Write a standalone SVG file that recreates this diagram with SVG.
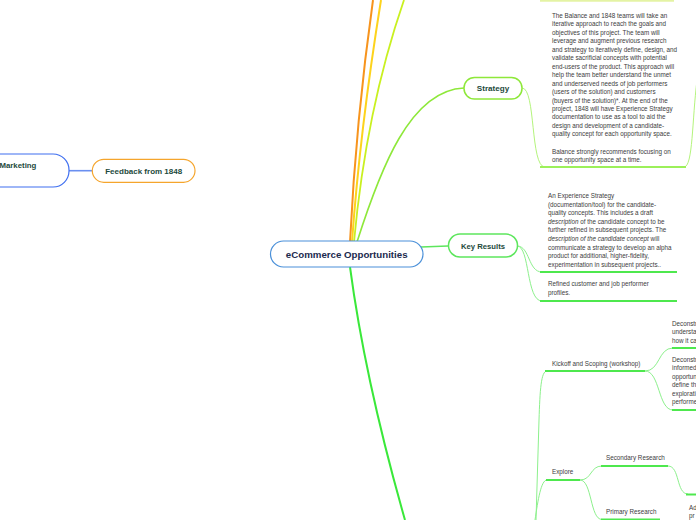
<svg xmlns="http://www.w3.org/2000/svg" width="696" height="520" viewBox="0 0 696 520">
<style>
.lbl{font-family:"Liberation Sans",Arial,sans-serif;font-weight:bold;text-anchor:middle}
.body{font-family:"Liberation Sans",Arial,sans-serif;font-size:6.3px;fill:#3c3c3c}
.thin{fill:none;stroke:#8cf08c;stroke-width:1}
.ul{fill:none;stroke:#4ee84e;stroke-width:2}
</style>
<rect width="696" height="520" fill="#ffffff"/>
<g id="connectors" fill="none">
  <path d="M350,242 Q356,120 373,0" stroke="#f7941d" stroke-width="2"/>
  <path d="M352,242 Q360,130 381,0" stroke="#fdd31c" stroke-width="2"/>
  <path d="M354,242 Q366,110 404,0" stroke="#c9f020" stroke-width="1.8"/>
  <path d="M357,242 C380,170 410,90 464,88" stroke="#8ee83a" stroke-width="1.6"/>
  <path d="M421,247 L448,246" stroke="#5de65d" stroke-width="1.6"/>
  <path d="M350,267 Q365,380 405,520" stroke="#3ae83a" stroke-width="2"/>
  <path d="M69,170.7 L92,170.7" stroke="#6a8ff0" stroke-width="1.6"/>
  <path d="M522,88 C536,88 530,167 545,167" stroke="#b4f47c" stroke-width="1"/>
  <path d="M684,167 C693,167 692,120 697,80" stroke="#b4f47c" stroke-width="1"/>
  <path d="M517,246 C530,246 528,272 542,272" class="thin"/>
  <path d="M517,246 C530,246 526,301 542,301" class="thin"/>
  <path d="M547,371 C541,371 540,390 539,420 L536,520" class="thin"/>
  <path d="M547,480 C541,480 538,500 535,520" class="thin"/>
  <path d="M645,371 C660,371 658,348 673,348" class="thin"/>
  <path d="M645,371 C660,371 658,410 673,410" class="thin"/>
  <path d="M580,480 C592,480 590,466 602,466" class="thin"/>
  <path d="M580,480 C592,480 590,519.5 602,519.5" class="thin"/>
  <path d="M668,466 C680,466 676,494 688,494" class="thin"/>
</g>
<g id="top-fragment">
  <line x1="540" y1="0.8" x2="674" y2="0.8" stroke="#e4f3a4" stroke-width="2"/>
</g>
<g id="center">
  <rect x="270.5" y="241" width="152.5" height="26" rx="13" fill="#fff" stroke="#4a90d9" stroke-width="1.2"/>
  <text x="346.7" y="257.6" class="lbl" font-size="9.7" fill="#1b2a4e">eCommerce Opportunities</text>
</g>
<g id="marketing">
  <rect x="-30" y="154" width="99" height="33" rx="16" fill="#fff" stroke="#3f6ff0" stroke-width="1.2"/>
  <text x="-0.5" y="168" font-family="Liberation Sans,Arial,sans-serif" font-weight="bold" font-size="7.8" fill="#1d4a3c">Marketing</text>
</g>
<g id="feedback">
  <rect x="92.3" y="159.3" width="102.7" height="23" rx="11.5" fill="#fff" stroke="#f5a52c" stroke-width="1.2"/>
  <text x="143.7" y="173.6" class="lbl" font-size="8" fill="#1d4a3c">Feedback from 1848</text>
</g>
<g id="strategy">
  <rect x="464" y="77.5" width="58" height="21.5" rx="10.5" fill="#fff" stroke="#8ee83a" stroke-width="1.5"/>
  <text x="493" y="91.2" class="lbl" font-size="8.1" fill="#1d4a3c">Strategy</text>
</g>
<g id="strategy-text">
  <text class="body" x="552">
    <tspan x="552" y="17.8">The Balance and 1848 teams will take an</tspan>
    <tspan x="552" y="26.3">iterative approach to reach the goals and</tspan>
    <tspan x="552" y="34.7">objectives of this project. The team will</tspan>
    <tspan x="552" y="43.2">leverage and augment previous research</tspan>
    <tspan x="552" y="51.7">and strategy to iteratively define, design, and</tspan>
    <tspan x="552" y="60.2">validate sacrificial concepts with potential</tspan>
    <tspan x="552" y="68.6">end-users of the product. This approach will</tspan>
    <tspan x="552" y="77.1">help the team better understand the unmet</tspan>
    <tspan x="552" y="85.6">and underserved needs of job performers</tspan>
    <tspan x="552" y="94.0">(users of the solution) and customers</tspan>
    <tspan x="552" y="102.5">(buyers of the solution)*. At the end of the</tspan>
    <tspan x="552" y="111.0">project, 1848 will have Experience Strategy</tspan>
    <tspan x="552" y="119.4">documentation to use as a tool to aid the</tspan>
    <tspan x="552" y="127.9">design and development of a candidate-</tspan>
    <tspan x="552" y="136.4">quality concept for each opportunity space.</tspan>
    <tspan x="552" y="153.5">Balance strongly recommends focusing on</tspan>
    <tspan x="552" y="162.0">one opportunity space at a time.</tspan>
  </text>
  <line x1="540" y1="167" x2="686" y2="167" stroke="#9cf05a" stroke-width="2"/>
</g>
<g id="key-results">
  <rect x="448.5" y="234" width="69" height="23" rx="11.5" fill="#fff" stroke="#5de65d" stroke-width="1.5"/>
  <text x="483" y="248.6" class="lbl" font-size="7.7" fill="#1d4a3c">Key Results</text>
</g>
<g id="key-results-text-1">
  <text class="body">
    <tspan x="548" y="198">An Experience Strategy</tspan>
    <tspan x="548" y="206.6">(documentation/tool) for the candidate-</tspan>
    <tspan x="548" y="215.2">quality concepts. This includes a draft</tspan>
    <tspan x="548" y="223.8"><tspan font-style="italic">description</tspan> of the candidate concept to be</tspan>
    <tspan x="548" y="232.4">further refined in subsequent projects. The</tspan>
    <tspan x="548" y="241"><tspan font-style="italic">description of the candidate concept</tspan> will</tspan>
    <tspan x="548" y="249.6">communicate a strategy to develop an alpha</tspan>
    <tspan x="548" y="258.2">product for additional, higher-fidelity,</tspan>
    <tspan x="548" y="266.8">experimentation in subsequent projects..</tspan>
  </text>
  <line x1="540" y1="272" x2="677" y2="272" class="ul"/>
</g>
<g id="key-results-text-2">
  <text class="body">
    <tspan x="548" y="286.3">Refined customer and job performer</tspan>
    <tspan x="548" y="295">profiles.</tspan>
  </text>
  <line x1="540" y1="301" x2="677" y2="301" class="ul"/>
</g>
<g id="kickoff">
  <text class="body" x="552" y="366">Kickoff and Scoping (workshop)</text>
  <line x1="545" y1="371" x2="645" y2="371" class="ul"/>
</g>
<g id="deconstruct-1">
  <text class="body">
    <tspan x="672" y="325.7">Deconstr</tspan>
    <tspan x="672" y="334.2">understa</tspan>
    <tspan x="672" y="342.7">how it ca</tspan>
  </text>
  <line x1="672" y1="348" x2="696" y2="348" class="ul"/>
</g>
<g id="deconstruct-2">
  <text class="body">
    <tspan x="672" y="361.5">Deconstr</tspan>
    <tspan x="672" y="370">informed</tspan>
    <tspan x="672" y="378.5">opportun</tspan>
    <tspan x="672" y="387">define th</tspan>
    <tspan x="672" y="395.5">explorati</tspan>
    <tspan x="672" y="404">performe</tspan>
  </text>
  <line x1="672" y1="410" x2="696" y2="410" class="ul"/>
</g>
<g id="explore">
  <text class="body" x="552" y="473.6">Explore</text>
  <line x1="546" y1="480" x2="580" y2="480" class="ul"/>
</g>
<g id="secondary-research">
  <text class="body" x="606" y="459.6">Secondary Research</text>
  <line x1="601" y1="466" x2="668" y2="466" class="ul"/>
</g>
<g id="secondary-child">
  <line x1="686" y1="494.5" x2="696" y2="494.5" class="ul"/>
</g>
<g id="primary-research">
  <text class="body" x="606" y="513.6">Primary Research</text>
  <line x1="601" y1="519.5" x2="660" y2="519.5" class="ul"/>
</g>
<g id="primary-child">
  <text class="body">
    <tspan x="689" y="509.5">Ad</tspan>
    <tspan x="689" y="518">pr</tspan>
  </text>
</g>
</svg>
